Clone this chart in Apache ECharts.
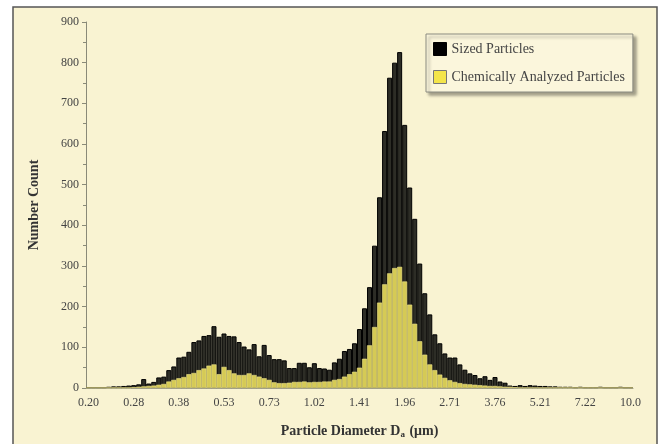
<!DOCTYPE html>
<html>
<head>
<meta charset="utf-8">
<script src="https://cdn.jsdelivr.net/npm/echarts@6/dist/echarts.min.js"></script>
<style>
  html, body { margin: 0; padding: 0; background: #fff; }
  #chart { width: 659px; height: 444px; }
</style>
</head>
<body>
<div id="chart"></div>
<script>
// tick labels on the log-spaced size axis, one every 9 bins
var tickLabels = ['0.20', '0.28', '0.38', '0.53', '0.73', '1.02', '1.41', '1.96', '2.71', '3.76', '5.21', '7.22', '10.0'];

// sized particles, bins 0..108
var sized = [
  2, 2, 2, 2, 3, 4, 4, 5, 6,
  7, 9, 22, 11, 15, 26, 28, 44, 53,
  75, 77, 89, 113, 117, 128, 130, 152, 126,
  134, 128, 127, 113, 102, 95, 108, 78, 106,
  81, 71, 71, 68, 49, 49, 62, 62, 51,
  61, 49, 48, 45, 63, 72, 91, 96, 110,
  145, 196, 248, 350, 469, 632, 763, 800, 826,
  647, 493, 416, 306, 233, 181, 132, 110, 85,
  75, 75, 58, 45, 36, 32, 24, 29, 20,
  27, 16, 13, 6, 5, 7, 5, 7, 6,
  5, 5, 4, 4, 3, 3, 3, 2, 3,
  2, 2, 2, 3, 2, 2, 2, 3, 2,
  2
];

// chemically analyzed particles, bins 0..108
var analyzed = [
  1, 1, 1, 1, 1, 1, 1, 1, 1,
  2, 3, 4, 5, 6, 8, 10, 16, 20,
  24, 27, 34, 37, 44, 48, 55, 58, 34,
  52, 44, 36, 32, 32, 36, 32, 28, 24,
  20, 14, 12, 12, 13, 15, 15, 16, 14,
  15, 15, 16, 16, 20, 22, 28, 34, 40,
  50, 72, 105, 150, 210, 255, 282, 295, 298,
  262, 205, 158, 115, 82, 58, 44, 33, 25,
  19, 15, 12, 10, 9, 8, 7, 6, 5,
  5, 4, 3, 3, 2, 1, 1, 1, 1,
  1, 1, 1, 1, 1, 1, 1, 1, 1,
  1, 1, 1, 1, 1, 1, 1, 1, 1,
  1
];

var categories = sized.map(function (v, i) { return i; });

var serif = 'Liberation Serif';
var myChart = echarts.init(document.getElementById('chart'));
var option = {
    animation: false,
    graphic: [{
        type: 'rect',
        z: -10,
        shape: { x: 13, y: 7, width: 644, height: 445 },
        style: { fill: '#f9f3d2', stroke: '#555', lineWidth: 1.5 }
    }],
    grid: {
        left: 86,
        right: 26,
        top: 22,
        bottom: 56
    },
    legend: {
        orient: 'vertical',
        left: 426,
        top: 34,
        padding: [8, 8, 8, 7],
        itemGap: 14,
        itemWidth: 13,
        itemHeight: 13,
        icon: 'rect',
        backgroundColor: '#fbf6dc',
        borderColor: '#8a8a80',
        borderWidth: 1,
        shadowColor: 'rgba(0,0,0,0.35)',
        shadowBlur: 3,
        shadowOffsetX: 3,
        shadowOffsetY: 3,
        textStyle: { fontFamily: serif, fontSize: 14, color: '#444' },
        data: [
            { name: 'Sized Particles', itemStyle: { color: '#000', borderColor: '#000', borderWidth: 1 } },
            { name: 'Chemically Analyzed Particles', itemStyle: { color: '#f4e54a', borderColor: '#777', borderWidth: 1 } }
        ]
    },
    xAxis: {
        type: 'category',
        data: categories,
        boundaryGap: true,
        axisLine: { show: true, lineStyle: { color: '#9a9a88', width: 1 } },
        axisTick: { show: false },
        axisLabel: {
            interval: 8,
            margin: 9,
            fontFamily: serif,
            fontSize: 12,
            color: '#444',
            formatter: function (value, index) { return tickLabels[index / 9]; }
        },
        name: '{b|Particle Diameter D}{s|a}{b| (\u03bcm)}',
        nameLocation: 'middle',
        nameGap: 35,
        nameTextStyle: {
            rich: {
                b: { fontFamily: serif, fontSize: 14, fontWeight: 'bold', color: '#333' },
                s: { fontFamily: serif, fontSize: 9, fontWeight: 'bold', color: '#333', verticalAlign: 'bottom', padding: [7, 1, 0, 0] }
            }
        }
    },
    yAxis: {
        type: 'value',
        min: 0,
        max: 900,
        interval: 100,
        splitLine: { show: false },
        axisLine: { show: true, lineStyle: { color: '#8a8a78', width: 1 } },
        axisTick: { show: true, inside: false, length: 4, lineStyle: { color: '#8a8a78' } },
        minorTick: { show: true, splitNumber: 2, length: 3, lineStyle: { color: '#8a8a78' } },
        axisLabel: { fontFamily: serif, fontSize: 12, color: '#444', margin: 7 },
        name: 'Number Count',
        nameLocation: 'middle',
        nameGap: 45,
        nameTextStyle: { fontFamily: serif, fontSize: 14, fontWeight: 'bold', color: '#333' }
    },
    series: [
        {
            name: 'Sized Particles',
            type: 'bar',
            data: sized,
            barCategoryGap: '0%',
            barGap: '-100%',
            itemStyle: { color: '#2d2d26', borderColor: '#000', borderWidth: 1 }
        },
        {
            name: 'Chemically Analyzed Particles',
            type: 'bar',
            data: analyzed,
            barCategoryGap: '0%',
            barGap: '-100%',
            itemStyle: { color: '#d5ca55', borderColor: '#ece28a', borderWidth: 0.6 }
        }
    ]
};
myChart.setOption(option, true);
</script>
</body>
</html>
